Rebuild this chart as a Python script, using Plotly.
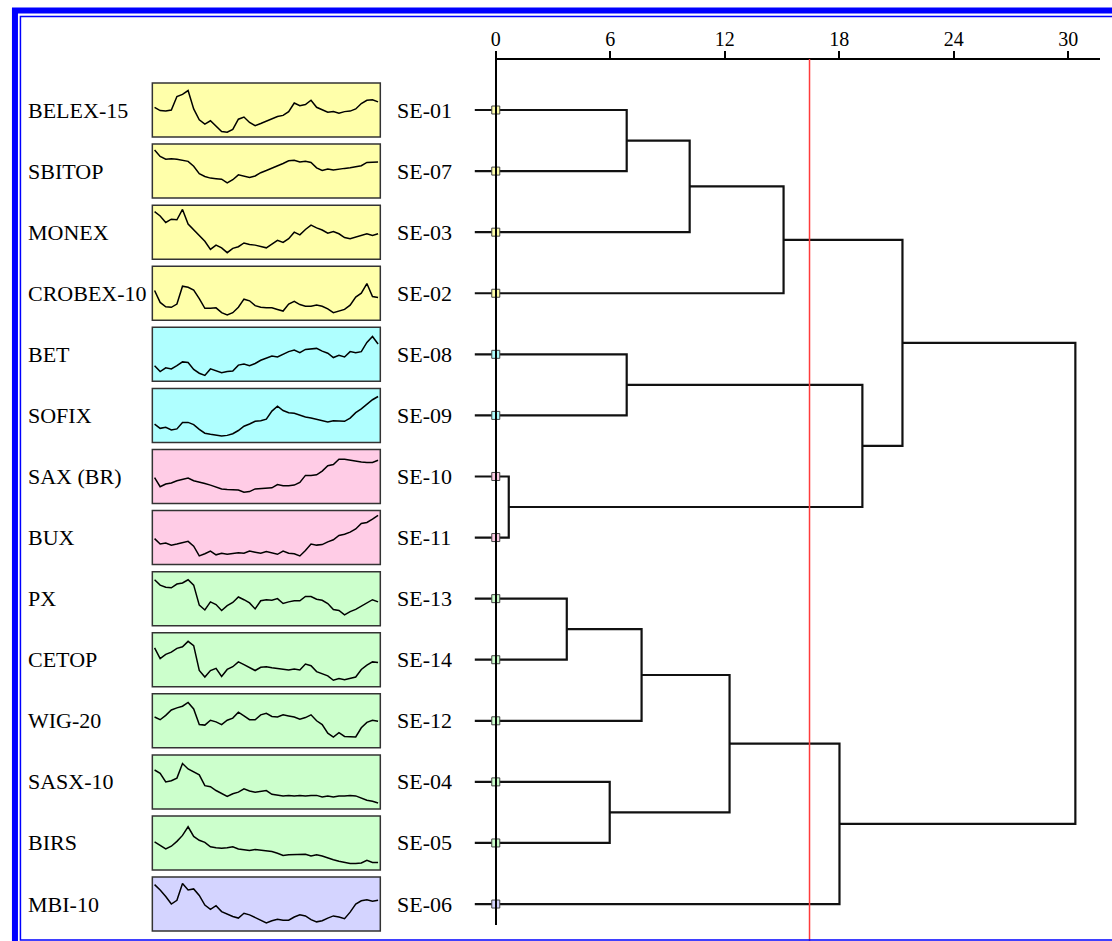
import plotly.graph_objects as go

W, H = 1112, 941

# ---------------- data ----------------
index_names = ["BELEX-15", "SBITOP", "MONEX", "CROBEX-10", "BET", "SOFIX", "SAX (BR)",
               "BUX", "PX", "CETOP", "WIG-20", "SASX-10", "BIRS", "MBI-10"]
codes = ["SE-01", "SE-07", "SE-03", "SE-02", "SE-08", "SE-09", "SE-10",
         "SE-11", "SE-13", "SE-14", "SE-12", "SE-04", "SE-05", "SE-06"]
group_of_leaf = [0, 0, 0, 0, 1, 1, 2, 2, 3, 3, 3, 3, 3, 4]
group_colors = ["#FFFFAA", "#AFFFFF", "#FFCCE6", "#CCFFCC", "#D4D4FF"]

# linkage: leaves 0..13, cluster k -> id 14+k
merge_left = [0, 14, 15, 4, 6, 17, 16, 8, 21, 11, 22, 24, 20]
merge_right = [1, 2, 3, 5, 7, 18, 19, 9, 10, 12, 23, 13, 25]
merge_height = [6.86, 10.16, 15.08, 6.86, 0.68, 19.21, 21.31, 3.72, 7.64, 5.97, 12.25, 18.01, 30.37]
leaf_start = -1.1
cut_level = 16.44
axis_ticks = [0, 6, 12, 18, 24, 30]

# sparkline series (0 = box bottom, 100 = box top)
belex15 = [55, 49, 48, 50, 75, 79, 86, 52, 32, 24, 30, 20, 10, 9, 14, 33, 37, 27, 21, 25, 29,
           34, 38, 40, 47, 63, 58, 60, 68, 55, 51, 46, 47, 44, 47, 48, 52, 62, 68, 69, 65]
sbitop = [89, 77, 72, 73, 72, 70, 68, 59, 45, 40, 37, 36, 35, 28, 34, 43, 40, 38, 41, 47, 51,
          55, 60, 64, 69, 70, 67, 68, 66, 56, 51, 54, 52, 54, 55, 56, 58, 60, 66, 66, 67]
monex = [88, 80, 68, 74, 73, 92, 65, 54, 44, 33, 18, 26, 21, 12, 20, 23, 30, 27, 26, 23, 21,
         28, 35, 31, 38, 50, 45, 55, 63, 58, 54, 48, 51, 47, 40, 38, 41, 43, 47, 44, 47]
crobex10 = [55, 33, 25, 24, 30, 63, 61, 56, 40, 22, 22, 23, 14, 10, 14, 24, 39, 36, 27, 24, 23,
            23, 20, 17, 30, 35, 29, 26, 26, 28, 26, 21, 14, 17, 20, 28, 43, 50, 68, 44, 42]
bet = [29, 18, 25, 23, 29, 36, 35, 22, 15, 11, 23, 20, 16, 18, 19, 30, 32, 29, 33, 39, 43,
       47, 45, 50, 55, 58, 53, 59, 60, 61, 56, 52, 44, 48, 45, 55, 53, 55, 72, 83, 69]
sofix = [34, 26, 28, 23, 25, 37, 37, 33, 24, 17, 15, 13, 12, 13, 16, 22, 30, 34, 39, 40, 43,
         58, 67, 59, 55, 54, 50, 47, 45, 43, 41, 38, 40, 39, 39, 45, 55, 62, 70, 79, 85]
sax_br = [48, 31, 36, 38, 42, 45, 47, 42, 40, 37, 34, 31, 27, 26, 26, 25, 21, 22, 27, 28, 28,
          29, 35, 33, 33, 34, 39, 52, 52, 53, 60, 70, 72, 82, 82, 80, 79, 77, 76, 76, 80]
bux = [48, 38, 40, 36, 38, 40, 43, 34, 16, 20, 25, 18, 21, 19, 21, 22, 21, 25, 23, 21, 24,
       22, 19, 25, 21, 20, 16, 26, 38, 36, 37, 42, 46, 54, 56, 60, 66, 76, 78, 84, 91]
px = [85, 75, 71, 70, 77, 79, 85, 75, 38, 29, 44, 39, 28, 37, 43, 53, 48, 42, 31, 46, 48,
      47, 50, 41, 44, 46, 46, 54, 54, 49, 47, 41, 30, 28, 20, 26, 30, 36, 42, 48, 44]
cetop = [72, 52, 60, 64, 71, 74, 84, 76, 30, 18, 30, 34, 19, 32, 37, 46, 41, 36, 30, 36, 37,
         35, 34, 33, 31, 33, 31, 42, 39, 28, 24, 20, 12, 15, 13, 15, 18, 32, 40, 46, 45]
wig20 = [57, 52, 60, 70, 74, 77, 84, 72, 43, 42, 51, 48, 43, 51, 55, 66, 59, 52, 52, 61, 64,
         58, 57, 61, 59, 57, 53, 56, 61, 50, 43, 27, 20, 28, 21, 21, 20, 37, 47, 51, 49]
sasx10 = [72, 66, 50, 52, 57, 84, 74, 68, 63, 43, 41, 34, 28, 23, 28, 31, 37, 33, 31, 33, 34,
          27, 25, 24, 25, 24, 25, 24, 25, 25, 22, 24, 22, 24, 24, 25, 24, 20, 16, 14, 11]
birs = [52, 45, 39, 44, 53, 64, 80, 62, 55, 51, 43, 41, 40, 41, 43, 39, 37, 36, 38, 37, 35,
        34, 31, 27, 28, 28, 29, 29, 26, 28, 26, 22, 19, 16, 14, 12, 12, 13, 18, 14, 14]
mbi10 = [86, 76, 64, 50, 57, 88, 76, 78, 66, 48, 40, 47, 36, 31, 27, 24, 33, 30, 25, 19, 15,
         19, 22, 20, 20, 26, 30, 28, 21, 17, 19, 24, 28, 26, 23, 35, 50, 56, 58, 55, 57]

spark_series = [belex15, sbitop, monex, crobex10, bet, sofix, sax_br, bux,
                px, cetop, wig20, sasx10, birs, mbi10]

# ---------------- geometry (pixel layout) ----------------
X0_PX, UNIT_PX = 493.0, 19.17      # x pixel of distance 0, pixels per unit
ROW0_PX, ROW_PX = 110.0, 61.08     # y pixel of first leaf, spacing
AXIS_Y_PX = 59.0
AXIS_END_PX = 1100.0
BOX_L, BOX_R, BOX_H = 148.0, 377.0, 54.0
NAME_X, CODE_X = 21.0, 392.0

x_lo = -X0_PX / UNIT_PX
x_hi = (W - X0_PX) / UNIT_PX
y_top = -ROW0_PX / ROW_PX
y_bot = (H - ROW0_PX) / ROW_PX

fig = go.Figure()

# dendrogram
n = len(codes)
node_y = list(range(n))
node_h = [leaf_start] * n
dx, dy = [], []
for l, r, h in zip(merge_left, merge_right, merge_height):
    dx += [node_h[l], h, h, node_h[r], None]
    dy += [node_y[l], node_y[l], node_y[r], node_y[r], None]
    node_y.append((node_y[l] + node_y[r]) / 2.0)
    node_h.append(h)

fig.add_trace(go.Scatter(x=dx, y=dy, mode="lines", line=dict(color="#111111", width=2.2),
                         hoverinfo="skip", showlegend=False, xaxis="x", yaxis="y"))

# leaf markers
fig.add_trace(go.Scatter(x=[0] * n, y=list(range(n)), mode="markers",
                         marker=dict(symbol="square", size=8,
                                     color=[group_colors[g] for g in group_of_leaf],
                                     line=dict(color="#444444", width=1)),
                         hoverinfo="skip", showlegend=False, xaxis="x", yaxis="y"))

layout = dict(
    width=W, height=H, margin=dict(l=0, r=0, t=0, b=0),
    paper_bgcolor="white", plot_bgcolor="rgba(0,0,0,0)", showlegend=False,
    xaxis=dict(domain=[0, 1], range=[x_lo, x_hi], visible=False, fixedrange=True),
    yaxis=dict(domain=[0, 1], range=[y_bot, y_top], visible=False, fixedrange=True),
)

shapes = []
annotations = []

# sparklines
for i, series in enumerate(spark_series):
    k = i + 2
    cy = ROW0_PX + ROW_PX * i
    top = cy - BOX_H / 2
    bot = cy + BOX_H / 2
    layout["xaxis%d" % k] = dict(domain=[BOX_L / W, BOX_R / W], range=[-0.4, len(series) - 0.6],
                                 visible=False, anchor="y%d" % k, fixedrange=True)
    layout["yaxis%d" % k] = dict(domain=[1 - bot / H, 1 - top / H], range=[0, 100],
                                 visible=False, anchor="x%d" % k, fixedrange=True)
    shapes.append(dict(type="rect", xref="x%d domain" % k, yref="y%d domain" % k,
                       x0=0, x1=1, y0=0, y1=1, layer="below",
                       fillcolor=group_colors[group_of_leaf[i]],
                       line=dict(color="#333333", width=1.5)))
    fig.add_trace(go.Scatter(x=list(range(len(series))), y=series, mode="lines",
                             line=dict(color="black", width=1.5), hoverinfo="skip",
                             showlegend=False, xaxis="x%d" % k, yaxis="y%d" % k))
    annotations.append(dict(text=index_names[i], xref="paper", x=NAME_X / W, xanchor="left",
                            yref="y", y=i, yanchor="middle", showarrow=False,
                            font=dict(family="Liberation Serif", size=22, color="black")))
    annotations.append(dict(text=codes[i], xref="paper", x=CODE_X / W, xanchor="left",
                            yref="y", y=i, yanchor="middle", showarrow=False,
                            font=dict(family="Liberation Serif", size=22, color="black")))

# top distance axis (free axis)
layout["xaxis16"] = dict(domain=[X0_PX / W, AXIS_END_PX / W],
                         range=[0, (AXIS_END_PX - X0_PX) / UNIT_PX],
                         side="top", anchor="free", position=1 - AXIS_Y_PX / H,
                         showline=True, linecolor="black", linewidth=2,
                         ticks="outside", ticklen=7, tickwidth=2, tickcolor="black",
                         tickvals=axis_ticks, ticktext=[str(t) for t in axis_ticks],
                         ticklabelstandoff=-3,
                         tickfont=dict(family="Liberation Serif", size=20, color="black"),
                         showgrid=False, zeroline=False, fixedrange=True)
# vertical line at distance 0 (free y axis)
layout["yaxis16"] = dict(domain=[1 - 925 / H, 1 - 52 / H], range=[0, 1],
                         anchor="free", position=X0_PX / W, side="left",
                         showline=True, linecolor="black", linewidth=2,
                         ticks="", showticklabels=False, showgrid=False, zeroline=False,
                         fixedrange=True)
fig.add_trace(go.Scatter(x=[1], y=[0.5], mode="markers", marker=dict(opacity=0),
                         hoverinfo="skip", showlegend=False, xaxis="x16", yaxis="y16"))

# cut level
shapes.append(dict(type="line", xref="x", yref="paper", x0=cut_level, x1=cut_level,
                   y0=0, y1=1 - AXIS_Y_PX / H, line=dict(color="#FF3B3B", width=1.5)))

# double blue frame
shapes.append(dict(type="rect", xref="paper", yref="paper",
                   x0=10 / W, x1=1.05, y0=-0.05, y1=1 - 10.5 / H,
                   line=dict(color="#0000FF", width=6)))
shapes.append(dict(type="rect", xref="paper", yref="paper",
                   x0=15.5 / W, x1=1.03, y0=1 - 940 / H, y1=1 - 16.5 / H,
                   line=dict(color="#0000FF", width=1.5)))

layout["shapes"] = shapes
layout["annotations"] = annotations
fig.update_layout(**layout)

fig.write_html("out.html")
